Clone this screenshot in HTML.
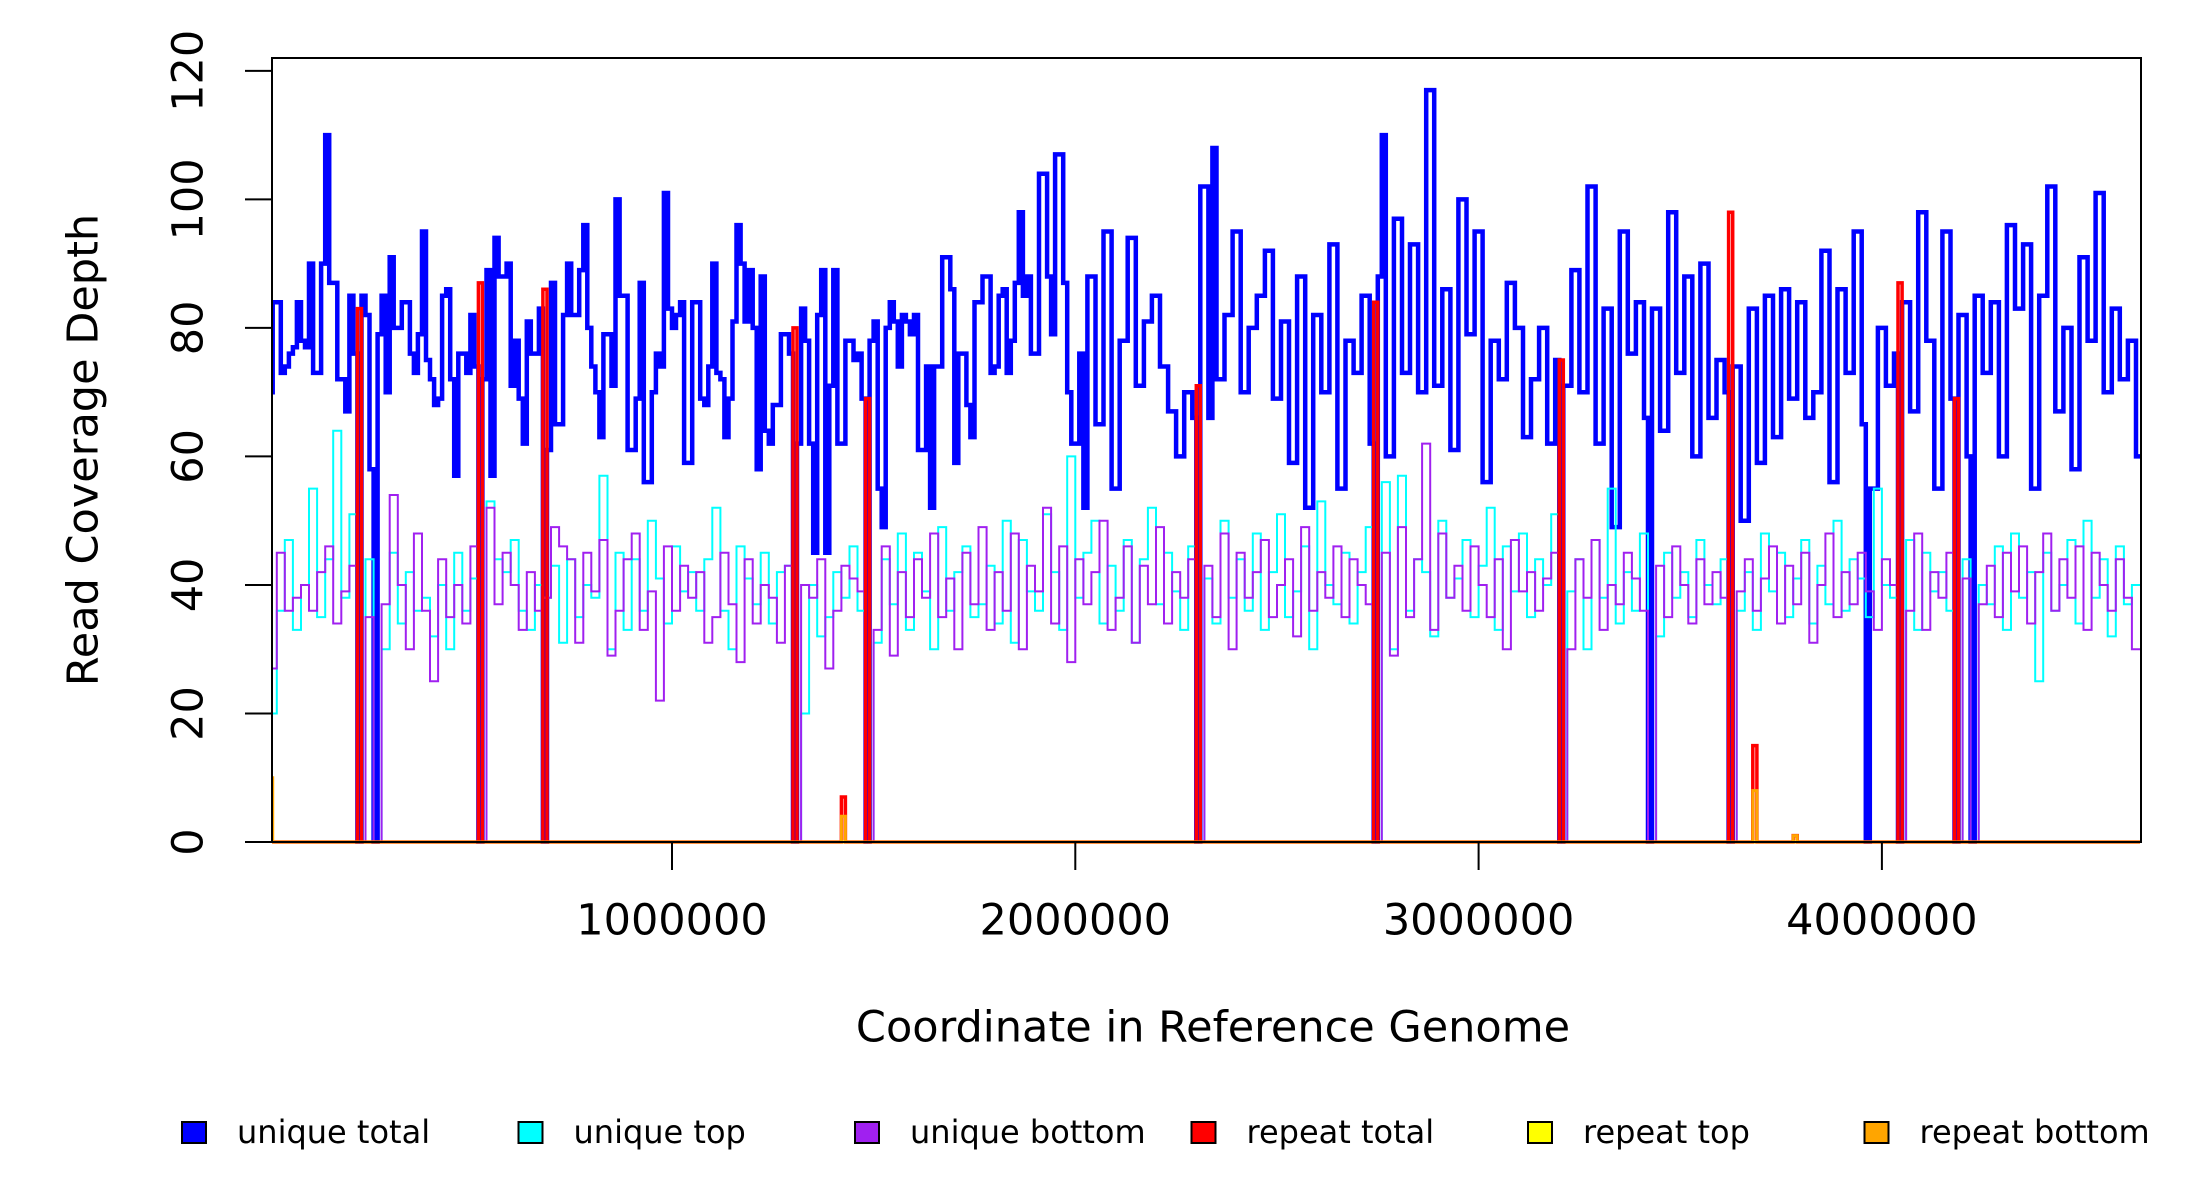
<!DOCTYPE html>
<html><head><meta charset="utf-8"><style>
html,body{margin:0;padding:0;background:#fff;}
svg{display:block;font-family:"DejaVu Sans","Liberation Sans",sans-serif;}
</style></head><body>
<svg id="chart" width="2200" height="1200" viewBox="0 0 2200 1200">
<defs><clipPath id="plotclip"><rect x="272" y="58" width="1869" height="786"/></clipPath></defs>
<g id="series" clip-path="url(#plotclip)"></g>
<rect x="272" y="58" width="1869" height="784" fill="none" stroke="#000" stroke-width="2"/>
<g id="axes"></g>
<text x="86" y="450" font-size="43" text-anchor="middle" transform="rotate(-90 86 450)" dominant-baseline="middle">Read Coverage Depth</text>
<text x="1213" y="1030" font-size="43" text-anchor="middle" dominant-baseline="middle">Coordinate in Reference Genome</text>
<g id="legend"></g>
</svg>
<script>
const totalBinSize = 10000;
const strandBinSize = 20000;
const uniqueTotal = [70,84,84,73,74,76,77,84,78,77,90,73,73,90,110,87,87,72,72,67,85,76,
0,85,82,58,0,79,85,70,91,80,80,84,84,76,73,79,95,75,72,68,69,85,86,72,57,76,76,73,82,74,
0,72,89,57,94,88,88,90,71,78,69,62,81,76,76,83,0,61,87,65,65,82,90,82,82,89,96,80,74,70,
63,79,79,71,100,85,85,61,61,69,87,56,56,70,76,74,101,83,80,82,84,59,59,84,84,69,68,74,
90,73,72,63,69,81,96,90,81,89,80,58,88,64,62,68,68,79,79,76,0,62,83,78,62,45,82,89,45,71,
89,62,62,78,78,75,76,69,0,78,81,55,49,80,84,81,74,82,81,79,82,61,61,74,52,74,74,91,91,86,
59,76,76,68,63,84,84,88,88,73,74,85,86,73,78,87,98,85,88,76,76,104,104,88,79,107,107,87,
70,62,62,76,52,88,88,65,65,95,95,55,55,78,78,94,94,71,71,81,81,85,85,74,74,67,67,60,60,70,70,66,
0,102,102,66,108,72,72,82,82,95,95,70,70,80,80,85,85,92,92,69,69,81,81,59,59,88,88,52,52,82,
82,70,70,93,93,55,55,78,78,73,73,85,85,62,0,88,110,60,60,97,97,73,73,93,93,70,70,117,117,71,
71,86,86,61,61,100,100,79,79,95,95,56,56,78,78,72,72,87,87,80,80,63,63,72,72,80,80,62,62,75,
0,71,71,89,89,70,70,102,102,62,62,83,83,49,49,95,95,76,76,84,84,66,0,83,83,64,64,98,98,73,
73,88,88,60,60,90,90,66,66,75,75,70,0,74,74,50,50,83,83,59,59,85,85,63,63,86,86,69,69,84,
84,66,66,70,70,92,92,56,56,86,86,73,73,95,95,65,0,55,55,80,80,71,71,76,0,84,84,67,67,98,
98,78,78,55,55,95,95,69,0,82,82,60,0,85,85,73,73,84,84,60,60,96,96,83,83,93,93,55,55,85,
85,102,102,67,67,80,80,58,58,91,91,78,78,101,101,70,70,83,83,72,72,78,78,60];
const uniqueTop = [20,36,47,33,40,55,35,44,64,38,51,0,44,0,30,45,34,42,36,38,32,40,30,45,36,41,0,53,44,42,47,36,33,40,38,43,31,44,35,40,
38,57,30,45,33,44,36,50,41,34,46,39,42,36,44,52,36,30,46,41,37,45,34,42,43,0,20,40,32,35,42,38,46,36,0,31,44,37,48,33,
45,39,30,49,36,42,46,35,37,43,34,50,31,47,39,36,51,42,33,60,38,45,50,34,43,36,47,31,44,52,37,45,39,33,46,0,41,34,50,38,
44,36,48,33,42,51,35,39,46,30,53,40,37,45,34,42,49,0,56,30,57,36,44,42,32,50,38,41,47,35,43,52,33,46,39,48,35,44,40,51,
0,39,44,30,47,38,55,34,42,36,48,0,32,45,38,42,35,47,40,37,44,0,36,42,33,48,39,45,35,41,47,34,43,37,50,36,44,41,35,55,
40,38,0,47,33,45,39,42,36,0,44,0,40,37,46,33,48,38,42,25,45,36,40,47,34,50,38,44,32,46,37,40];
const uniqueBottom = [27,45,36,38,40,36,42,46,34,39,43,0,35,0,37,54,40,30,48,36,25,44,35,40,34,46,0,52,37,45,40,33,42,36,38,49,46,44,31,45,
39,47,29,36,44,48,33,39,22,46,36,43,38,42,31,35,45,37,28,44,34,40,38,31,43,0,40,38,44,27,36,43,41,39,0,33,46,29,42,35,
44,38,48,35,41,30,45,37,49,33,42,36,48,30,43,39,52,34,46,28,44,37,42,50,33,38,46,31,43,37,49,34,42,38,44,0,43,35,48,30,
45,38,42,47,35,40,44,32,49,36,42,38,46,35,44,40,37,0,45,29,49,35,44,62,33,48,38,43,36,46,40,35,44,30,47,39,42,36,41,45,
0,30,44,38,47,33,40,37,45,41,36,0,43,35,46,40,34,44,37,42,38,0,39,44,36,41,46,34,43,37,45,31,40,48,35,42,37,45,39,33,
44,40,0,36,48,33,42,38,45,0,41,0,37,43,35,45,39,46,34,42,48,36,44,38,46,33,45,40,36,44,38,30];
const repeatSpikeBins = [22,52,68,130,142,148,230,274,320,362,368,378,404,418];
const repeatSpikeValues = [83,87,86,80,7,69,71,84,75,98,15,1,87,69];
const repeatBottomBins = [0,142,368,378];
const repeatBottomValues = [10,4,8,1];
const yTicks = [0,20,40,60,80,100,120];
const xTicks = [1000000,2000000,3000000,4000000];
const xTickLabels = ["1000000","2000000","3000000","4000000"];
const legendLabels = ["unique total","unique top","unique bottom","repeat total","repeat top","repeat bottom"];
const legendColors = ["#0000ff","#00ffff","#a020f0","#ff0000","#ffff00","#ffa500"];

const NS = "http://www.w3.org/2000/svg";
const nTotal = uniqueTotal.length;
function xs(v){ return 268.7 + v * 403.3e-6; }
function ys(v){ return 842 - v * (784/122); }
function sparse(bins, vals){ const a = new Array(nTotal).fill(0); bins.forEach((b,i)=>{a[b]=vals[i];}); return a; }
const repeatTotal = sparse(repeatSpikeBins, repeatSpikeValues);
const repeatTop = new Array(nTotal).fill(0);
const repeatBottom = sparse(repeatBottomBins, repeatBottomValues);
function stepPath(arr, bs){
  let d = "M" + xs(0).toFixed(1) + "," + ys(arr[0]).toFixed(1);
  for(let i=0;i<arr.length;i++){
    d += "L" + xs(i*bs).toFixed(1) + "," + ys(arr[i]).toFixed(1);
    d += "L" + xs((i+1)*bs).toFixed(1) + "," + ys(arr[i]).toFixed(1);
  }
  return d;
}
const seriesG = document.getElementById("series");
const seriesList = [
  [uniqueTotal,totalBinSize,"#0000ff",4.5,"unique-total-line"],
  [uniqueTop,strandBinSize,"#00ffff",2,"unique-top-line"],
  [uniqueBottom,strandBinSize,"#a020f0",2,"unique-bottom-line"],
  [repeatTotal,totalBinSize,"#ff0000",3.5,"repeat-total-line"],
  [repeatTop,totalBinSize,"#ffff00",3,"repeat-top-line"],
  [repeatBottom,totalBinSize,"#ffa500",3,"repeat-bottom-line"]
];
seriesList.forEach(s=>{
  const p = document.createElementNS(NS,"path");
  p.setAttribute("d", stepPath(s[0], s[1]));
  p.setAttribute("fill","none");
  p.setAttribute("stroke", s[2]);
  p.setAttribute("stroke-width", s[3]);
  
  
  seriesG.appendChild(p);
});
const axes = document.getElementById("axes");
yTicks.forEach(t=>{
  const l = document.createElementNS(NS,"line");
  l.setAttribute("x1",245); l.setAttribute("x2",272);
  l.setAttribute("y1",ys(t)); l.setAttribute("y2",ys(t));
  l.setAttribute("stroke","#000"); l.setAttribute("stroke-width",2);
  
  
  axes.appendChild(l);
  const tx = document.createElementNS(NS,"text");
  tx.setAttribute("x",191); tx.setAttribute("y",ys(t));
  tx.setAttribute("font-size",43);
  tx.setAttribute("text-anchor","middle");
  tx.setAttribute("dominant-baseline","middle");
  tx.setAttribute("transform","rotate(-90 191 "+ys(t)+")");
  tx.textContent = String(t);
  
  
  axes.appendChild(tx);
});
xTicks.forEach((t,i)=>{
  const l = document.createElementNS(NS,"line");
  l.setAttribute("x1",xs(t)); l.setAttribute("x2",xs(t));
  l.setAttribute("y1",842); l.setAttribute("y2",870);
  l.setAttribute("stroke","#000"); l.setAttribute("stroke-width",2);
  
  
  axes.appendChild(l);
  const tx = document.createElementNS(NS,"text");
  tx.setAttribute("x",xs(t)); tx.setAttribute("y",923);
  tx.setAttribute("font-size",43);
  tx.setAttribute("text-anchor","middle");
  tx.setAttribute("dominant-baseline","middle");
  tx.textContent = xTickLabels[i];
  
  
  axes.appendChild(tx);
});
const lg = document.getElementById("legend");
legendLabels.forEach((lab,i)=>{
  const x0 = 182 + i*336.5;
  const r = document.createElementNS(NS,"rect");
  r.setAttribute("x",x0); r.setAttribute("y",1122);
  r.setAttribute("width",24); r.setAttribute("height",21);
  r.setAttribute("fill",legendColors[i]); r.setAttribute("stroke","#000"); r.setAttribute("stroke-width",2);
  
  
  lg.appendChild(r);
  const tx = document.createElementNS(NS,"text");
  tx.setAttribute("x",x0+55); tx.setAttribute("y",1134);
  tx.setAttribute("font-size",32);
  tx.setAttribute("dominant-baseline","middle");
  tx.textContent = lab;
  
  
  lg.appendChild(tx);
});
</script>
</body></html>
